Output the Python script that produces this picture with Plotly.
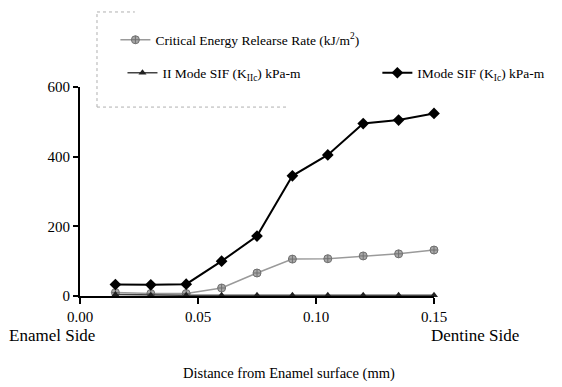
import plotly.graph_objects as go

distance = [0.015, 0.03, 0.045, 0.06, 0.075, 0.09, 0.105, 0.12, 0.135, 0.15]
critical_energy = [10, 7, 7, 23, 66, 106, 107, 115, 121, 132]
mode2_sif = [4, 2, 2, 2, 2, 2, 2, 2, 2, 2]
mode1_sif = [33, 32, 34, 100, 172, 345, 405, 495, 505, 524]

x_ticks = [0.0, 0.05, 0.10, 0.15]
x_tick_labels = ["0.00", "0.05", "0.10", "0.15"]
y_ticks = [0, 200, 400, 600]

FONT = "Liberation Serif"

fig = go.Figure()
fig.add_trace(go.Scatter(
    x=distance, y=critical_energy, mode="lines+markers",
    name="Critical Energy Relearse Rate (kJ/m<sup>2</sup>)",
    line=dict(color="#9a9a9a", width=1.5),
    marker=dict(symbol="circle-cross", size=8, color="#a8a8a8",
                line=dict(color="#707070", width=1)),
    legend="legend", showlegend=True, cliponaxis=False))
fig.add_trace(go.Scatter(
    x=distance, y=mode2_sif, mode="lines+markers",
    name="II Mode SIF (K<sub>IIc</sub>) kPa-m",
    line=dict(color="#444444", width=1.5),
    marker=dict(symbol="triangle-up", size=7, color="#222222"),
    legend="legend2", showlegend=True, cliponaxis=False))
fig.add_trace(go.Scatter(
    x=distance, y=mode1_sif, mode="lines+markers",
    name="IMode SIF (K<sub>Ic</sub>) kPa-m",
    line=dict(color="black", width=2),
    marker=dict(symbol="diamond", size=9, color="black"),
    legend="legend3", showlegend=True, cliponaxis=False))

leg_common = dict(bgcolor="rgba(0,0,0,0)", borderwidth=0,
                  font=dict(family=FONT, size=13.5, color="black"),
                  xanchor="left", yanchor="middle")

fig.update_layout(
    width=562, height=387,
    margin=dict(l=80, r=126, t=87, b=91),
    paper_bgcolor="white", plot_bgcolor="white",
    showlegend=True,
    font=dict(family=FONT, size=12, color="black"),
    legend=dict(x=0.10, y=1.225, **leg_common),
    legend2=dict(x=0.12, y=1.067, **leg_common),
    legend3=dict(x=0.84, y=1.067, **leg_common),
    xaxis=dict(range=[0, 0.15], tickvals=x_ticks, ticktext=x_tick_labels,
               showgrid=False, zeroline=False, showline=True,
               linecolor="black", linewidth=2, ticks="outside",
               ticklen=6, tickwidth=2, tickcolor="black",
               tickfont=dict(family=FONT, size=15)),
    yaxis=dict(range=[0, 600], tickvals=y_ticks, showgrid=False,
               zeroline=False, showline=True, linecolor="black",
               linewidth=2, ticks="outside", ticklen=5, tickwidth=2,
               tickcolor="black", tickfont=dict(family=FONT, size=15)),
)

# dotted legend frame (partial, as in the reference)
dot = dict(color="#b0b0b0", width=1, dash="dot")
fig.add_shape(type="line", xref="paper", yref="paper",
              x0=0.048, x1=0.048, y0=0.904, y1=1.359, line=dot)
fig.add_shape(type="line", xref="paper", yref="paper",
              x0=0.048, x1=0.155, y0=1.359, y1=1.359, line=dot)
fig.add_shape(type="line", xref="paper", yref="paper",
              x0=0.048, x1=0.59, y0=0.904, y1=0.904, line=dot)

fig.add_annotation(text="Enamel Side", xref="paper", yref="paper",
                   x=-0.205, y=-0.19, xanchor="left", yanchor="middle",
                   showarrow=False, font=dict(family=FONT, size=17))
fig.add_annotation(text="Dentine Side", xref="paper", yref="paper",
                   x=0.985, y=-0.19, xanchor="left", yanchor="middle",
                   showarrow=False, font=dict(family=FONT, size=17))
fig.add_annotation(text="Distance from Enamel surface (mm)", xref="paper",
                   yref="paper", x=0.59, y=-0.37, xanchor="center",
                   yanchor="middle", showarrow=False,
                   font=dict(family=FONT, size=14.5))

fig.write_html("out.html")
